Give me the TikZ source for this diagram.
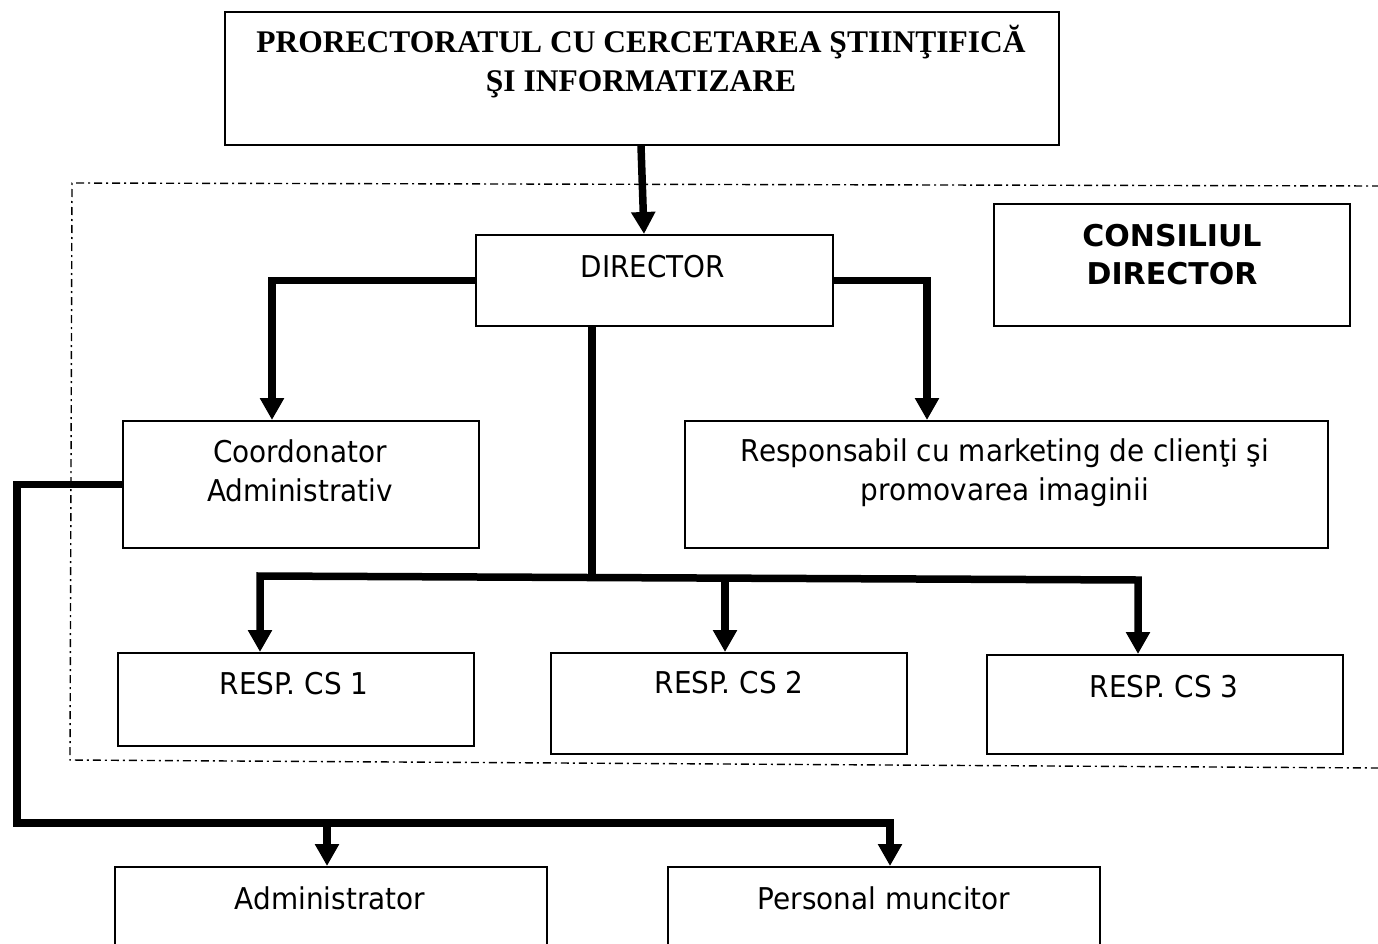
\documentclass[tikz,border=0pt]{standalone}
\usepackage{fontspec}
\newfontfamily\sfn{DejaVu Sans}[FakeStretch=0.93]
\newfontfamily\sfb{DejaVu Sans}
\newfontfamily\tnr{Liberation Serif}
\usetikzlibrary{arrows.meta,calc}
\begin{document}
\begin{tikzpicture}[x=1pt,y=-1pt,
  box/.style={draw,line width=1.8pt,rectangle,inner sep=0pt,anchor=north west},
  txt/.style={inner sep=0pt,anchor=base,align=center,font=\sfn\fontsize{30}{38.5}\selectfont},
  btxt/.style={inner sep=0pt,anchor=base,align=center,font=\sfb\bfseries\fontsize{30}{38}\selectfont},
  ttxt/.style={inner sep=0pt,anchor=base,align=center,font=\tnr\bfseries\fontsize{31.5}{39}\selectfont},
  conn/.style={line width=7.5pt,line join=miter},
  arr/.style={-{Triangle[width=23pt,length=22pt]}},
  frame/.style={line width=1.4pt,dash pattern=on 8pt off 4pt on 2pt off 4pt}]
\path[use as bounding box] (0,0) rectangle (1378,943);
\clip (0,0) rectangle (1378,943);

% dash-dot frame
\coordinate (f1) at (1380,186);
\coordinate (f2) at (72,183);
\coordinate (f3) at (70,760);
\coordinate (f4) at (1380,768);
\draw[frame] (f1) -- (f2) -- (f3) -- (f4);

% boxes
\node[box,minimum width=834pt,minimum height=133pt] (top) at (224,11) {};
\node[box,minimum width=357pt,minimum height=91pt] (dir) at (475,234) {};
\node[box,minimum width=356pt,minimum height=122pt] (cons) at (993,203) {};
\node[box,minimum width=356pt,minimum height=127pt] (coord) at (122,420) {};
\node[box,minimum width=643pt,minimum height=127pt] (resp) at (684,420) {};
\node[box,minimum width=356pt,minimum height=93pt] (cs1) at (117,652) {};
\node[box,minimum width=356pt,minimum height=101pt] (cs2) at (550,652) {};
\node[box,minimum width=356pt,minimum height=99pt] (cs3) at (986,654) {};
\node[box,minimum width=432pt,minimum height=100pt] (adm) at (114,866) {};
\node[box,minimum width=432pt,minimum height=100pt] (pers) at (667,866) {};

% texts (multi-line nodes: base = last line)
\node[ttxt] (topT) at (641,91) {PRORECTORATUL CU CERCETAREA ŞTIINŢIFICĂ\\ŞI INFORMATIZARE};
\node[txt] (dirT) at (653,277) {DIRECTOR};
\node[btxt] (consT) at (1172,284) {CONSILIUL\\DIRECTOR};
\node[txt] (coordT) at (300,501) {Coordonator\\Administrativ};
\node[txt] (respT) at (1005,500) {Responsabil cu marketing de clienţi şi\\promovarea imaginii};
\node[txt] (cs1T) at (294,694) {RESP. CS 1};
\node[txt] (cs2T) at (729,693) {RESP. CS 2};
\node[txt] (cs3T) at (1164,697) {RESP. CS 3};
\node[txt] (admT) at (330,909) {Administrator};
\node[txt] (persT) at (884,909) {Personal muncitor};

% connectors
\draw[conn,arr] ($(top.south west)+(417,0)$) -- ($(dir.north west)+(169,0)$);
\draw[conn,arr] (dir.west) -| ($(coord.north west)+(150,0)$);
\draw[conn,arr] (dir.east) -| ($(resp.north west)+(243,0)$);

\coordinate (b1) at (260,576);
\coordinate (b3) at (1138,580);
\coordinate (bm) at (592,577.5);
\coordinate (b2) at (725,579);
\draw[conn] ($(dir.south west)+(117,0)$) -- (bm);
\draw[conn,{Triangle[width=23pt,length=22pt]}-{Triangle[width=23pt,length=22pt]}]
  ($(cs1.north west)+(143,0)$) -- (b1) -- (b3) -- ($(cs3.north west)+(152,0)$);
\draw[conn,arr] (b2) -- ($(cs2.north west)+(175,0)$);

\coordinate (l1) at (17,823);
\coordinate (l2) at (327,823);
\draw[conn,arr] (coord.west) -| (l1) -| ($(pers.north west)+(223,0)$);
\draw[conn,arr] (l2) -- ($(adm.north west)+(213,0)$);
\end{tikzpicture}
\end{document}
